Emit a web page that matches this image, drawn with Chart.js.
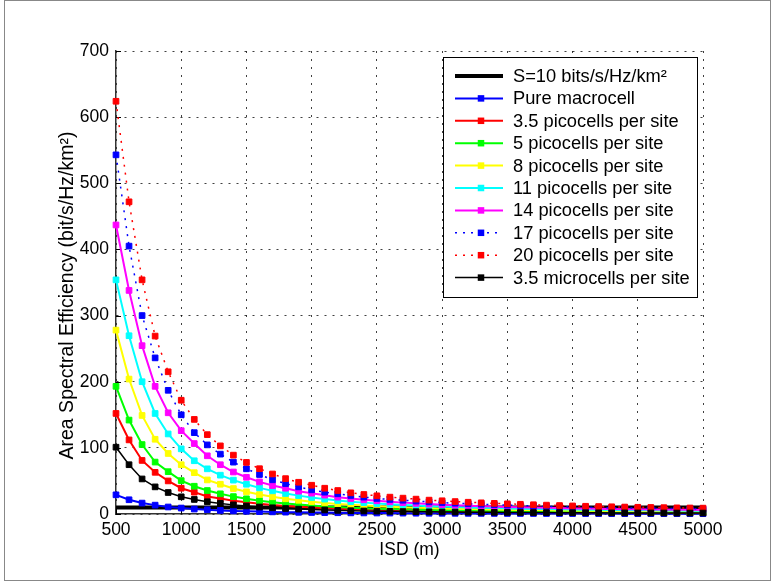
<!DOCTYPE html>
<html><head><meta charset="utf-8">
<script src="https://cdn.jsdelivr.net/npm/chart.js@4/dist/chart.umd.min.js"></script>
<style>
html,body{margin:0;padding:0;background:#fff;}
#wrap{position:relative;width:772px;height:586px;}
#frame{position:absolute;left:4px;top:0;width:767px;height:581px;border:1px solid #888;box-sizing:border-box;pointer-events:none;}
</style></head><body>
<div id="wrap"><canvas id="c"></canvas><div id="frame"></div></div>
<script>
const isd = [500,600,700,800,900,1000,1100,1200,1300,1400,1500,1600,1700,1800,1900,2000,2100,2200,2300,2400,2500,2600,2700,2800,2900,3000,3100,3200,3300,3400,3500,3600,3700,3800,3900,4000,4100,4200,4300,4400,4500,4600,4700,4800,4900,5000];
const targetX = [500, 5000];
const targetY = [10, 10];
const macro = [29,21.5,16.5,13.4,10.6,9,7.5,6.4,5.4,4.7,4.1,3.6,3.2,2.8,2.5,2.3,2.1,1.9,1.7,1.6,1.5,1.4,1.3,1.2,1.1,1.05,1.0,0.95,0.9,0.85,0.8,0.77,0.74,0.7,0.67,0.64,0.62,0.6,0.57,0.55,0.53,0.52,0.5,0.48,0.47,0.45];
const pico35 = [152,112,81,63,50,39,33,26.5,23.3,20.2,17.7,15.5,13.7,12.2,10.9,9.8,8.9,8.1,7.3,6.7,6.2,5.8,5.4,5.1,4.8,4.5,4.3,4.0,3.8,3.6,3.5,3.3,3.2,3.0,2.9,2.8,2.7,2.6,2.5,2.4,2.3,2.2,2.2,2.1,2.0,2.0];
const pico5 = [193,142,105,78.5,64,50.5,42,35.5,30.5,26.3,23,20.2,17.8,15.8,14.2,12.8,11.5,10.4,9.5,8.7,8.1,7.5,7.0,6.5,6.1,5.8,5.4,5.2,4.9,4.7,4.5,4.3,4.1,3.9,3.7,3.6,3.4,3.3,3.2,3.1,3.0,2.9,2.8,2.7,2.7,2.6];
const pico8 = [278,204,149,113,91.5,74.5,62.5,51.5,45,38.5,33.5,29.5,26,23,20.7,18.7,16.8,15.3,13.9,12.8,11.8,10.9,10.2,9.5,8.9,8.4,7.9,7.5,7.1,6.8,6.5,6.2,5.9,5.6,5.4,5.2,5.0,4.8,4.6,4.5,4.3,4.2,4.1,3.9,3.8,3.7];
const pico11 = [354,269.5,200,152,121,98.5,80.5,68.3,58.7,51.2,45,39.5,35,31,27.8,25,22.5,20.5,18.7,17.2,15.8,14.6,13.6,12.7,11.9,11.2,10.5,9.9,9.4,8.9,8.5,8.1,7.7,7.4,7.0,6.8,6.5,6.3,6.0,5.8,5.6,5.5,5.3,5.2,5.0,4.9];
const pico14 = [437,338,254.5,193,153,126,106.5,88,74.5,63.5,55.5,48.5,43,39,34.5,31.5,28.5,25.5,23.4,21.5,20,18.4,17.2,16.1,15,14.1,13.2,12.5,11.8,11.2,10.7,10.2,9.7,9.3,8.9,8.5,8.2,7.9,7.6,7.3,7.1,6.9,6.7,6.5,6.3,6.2];
const pico17 = [543,405,300,236,187,150,123,104.5,90.5,78.4,68.3,59.7,51.7,46,41,36.5,33,30.5,28,25.5,23.5,22,20.8,19.5,18.3,17.3,16.3,15.5,14.7,14,13.4,12.8,12.2,11.6,11.1,10.6,10.2,9.8,9.5,9.1,8.9,8.6,8.3,8.1,7.9,7.7];
const pico20 = [624,472,354,269,215,172,143,120,103,89,78,68.5,60.5,53.5,48,43.5,39,35.5,32,29.5,27.5,25.5,24,22.5,21,20,18.8,17.8,16.9,16.1,15.4,14.7,14,13.4,12.8,12.2,11.7,11.3,10.9,10.5,10.2,9.9,9.6,9.3,9.1,8.9];
const micro35 = [101,74.5,53,41,32.5,26,22,18.5,16,13.8,12.1,10.6,9.4,8.3,7.4,6.7,6.1,5.5,5.0,4.6,4.3,4.0,3.7,3.5,3.3,3.1,2.9,2.8,2.6,2.5,2.4,2.3,2.2,2.1,2.0,1.9,1.8,1.75,1.7,1.65,1.6,1.55,1.5,1.45,1.4,1.4];
const xTicks = [500,1000,1500,2000,2500,3000,3500,4000,4500,5000];
const yTicks = [0,100,200,300,400,500,600,700];

const seriesNames = ['S=10 bits/s/Hz/km\u00B2','Pure macrocell','3.5 picocells per site','5 picocells per site','8 picocells per site','11 picocells per site','14 picocells per site','17 picocells per site','20 picocells per site','3.5 microcells per site'];
const xTitle = 'ISD (m)';
const yTitle = 'Area Spectral Efficiency (bit/s/Hz/km\u00B2)';

const FONT = '"Liberation Sans", Arial, Helvetica, sans-serif';
const pts = (arr) => arr.map((v, i) => ({x: isd[i], y: v}));

function ds(label, values, color, opts) {
  return Object.assign({
    label, data: pts(values), borderColor: color, backgroundColor: color,
    borderWidth: 2, pointStyle: 'rect', pointRadius: 4, pointBorderWidth: 1,
    pointBorderColor: color, pointBackgroundColor: color, tension: 0, clip: false, fill: false
  }, opts || {});
}

const datasets = [
  {label: seriesNames[0], data: targetX.map((x, i) => ({x, y: targetY[i]})), borderColor: '#000', backgroundColor: '#000', borderWidth: 4, pointRadius: 0, tension: 0, clip: false, fill: false},
  ds(seriesNames[1], macro, '#0000ff'),
  ds(seriesNames[2], pico35, '#ff0000'),
  ds(seriesNames[3], pico5, '#00ff00'),
  ds(seriesNames[4], pico8, '#ffff00'),
  ds(seriesNames[5], pico11, '#00ffff'),
  ds(seriesNames[6], pico14, '#ff00ff'),
  ds(seriesNames[7], pico17, '#0000ff', {borderDash: [2, 6], borderWidth: 1.5}),
  ds(seriesNames[8], pico20, '#ff0000', {borderDash: [2, 6], borderWidth: 1.5}),
  ds(seriesNames[9], micro35, '#000000', {borderWidth: 1.5})
];
datasets.forEach((d, i) => { d.order = datasets.length - 1 - i; });

const inwardTicks = {
  id: 'inwardTicks',
  beforeDatasetsDraw(chart) {
    const {ctx, chartArea: a, scales: {x, y}} = chart;
    ctx.save();
    ctx.strokeStyle = '#000'; ctx.lineWidth = 1;
    ctx.beginPath();
    yTicks.forEach(v => { const p = Math.round(y.getPixelForValue(v)) + 0.5; ctx.moveTo(a.left, p); ctx.lineTo(a.left + 5, p); });
    xTicks.forEach(v => { const p = Math.round(x.getPixelForValue(v)) + 0.5; ctx.moveTo(p, a.bottom); ctx.lineTo(p, a.bottom - 5); });
    ctx.stroke();
    ctx.restore();
  }
};

const yTitlePlugin = {
  id: 'yTitlePlugin',
  afterDraw(chart) {
    const {ctx, chartArea: a} = chart;
    ctx.save();
    ctx.translate(a.left - 48, (a.top + a.bottom) / 2 + 13);
    ctx.rotate(-Math.PI / 2);
    ctx.font = '19.5px ' + FONT;
    ctx.fillStyle = '#000';
    ctx.textAlign = 'center';
    ctx.textBaseline = 'middle';
    ctx.fillText(yTitle, 0, 0);
    ctx.restore();
  }
};

const matlabLegend = {
  id: 'matlabLegend',
  afterDraw(chart) {
    const {ctx, chartArea: a} = chart;
    const w = 254, h = 240;
    const bx = a.right - 6 - w, by = a.top + 6;
    ctx.save();
    ctx.fillStyle = '#fff';
    ctx.fillRect(bx, by, w, h);
    ctx.strokeStyle = '#000'; ctx.lineWidth = 1;
    ctx.strokeRect(Math.round(bx) + 0.5, Math.round(by) + 0.5, w, h);
    ctx.font = '18.3px ' + FONT;
    ctx.textBaseline = 'middle';
    ctx.textAlign = 'left';
    const list = chart.data.datasets;
    for (let i = 0; i < list.length; i++) {
      const d = list[i];
      const cy = by + 19 + i * 22.4;
      ctx.save();
      ctx.strokeStyle = d.borderColor;
      ctx.lineWidth = d.borderWidth;
      ctx.setLineDash(d.borderDash || []);
      ctx.beginPath();
      ctx.moveTo(bx + 12, cy); ctx.lineTo(bx + 60, cy);
      ctx.stroke();
      ctx.restore();
      if (d.pointRadius !== 0) {
        ctx.fillStyle = d.borderColor;
        ctx.fillRect(bx + 38 - 3.25, cy - 3.25, 6.5, 6.5);
      }
      ctx.fillStyle = '#000';
      ctx.fillText(d.label, bx + 70, cy + 1);
    }
    ctx.restore();
  }
};

const gridCommon = {color: 'rgba(0,0,0,0.75)', lineWidth: 1, drawTicks: false};

new Chart(document.getElementById('c'), {
  type: 'line',
  data: {datasets},
  options: {
    responsive: true, maintainAspectRatio: false, animation: false, events: [],
    layout: {padding: {top: 51, right: 69, left: 0, bottom: 0}},
    plugins: {legend: {display: false}, tooltip: {enabled: false}},
    scales: {
      x: {
        type: 'linear', min: 500, max: 5000,
        afterBuildTicks: (s) => { s.ticks = xTicks.map(v => ({value: v})); },
        afterFit: (s) => { s.height = 72; },
        ticks: {color: '#000', font: {family: FONT, size: 17.5}, padding: 6, maxRotation: 0, autoSkip: false, callback: (v) => String(v)},
        grid: gridCommon,
        border: {display: true, color: '#333', width: 1.5, dash: [2, 6]},
        title: {display: true, text: xTitle, color: '#000', font: {family: FONT, size: 17.5}, padding: {top: 0, bottom: 25}}
      },
      y: {
        type: 'linear', min: 0, max: 700,
        afterBuildTicks: (s) => { s.ticks = yTicks.map(v => ({value: v})); },
        afterFit: (s) => { s.width = 116; },
        ticks: {color: '#000', font: {family: FONT, size: 17.5}, padding: 7, autoSkip: false, callback: (v) => String(v)},
        grid: gridCommon,
        border: {display: true, color: '#333', width: 1.5, dash: [2, 6]},
        title: {display: false}
      }
    }
  },
  plugins: [inwardTicks, yTitlePlugin, matlabLegend]
});
</script>
</body></html>
